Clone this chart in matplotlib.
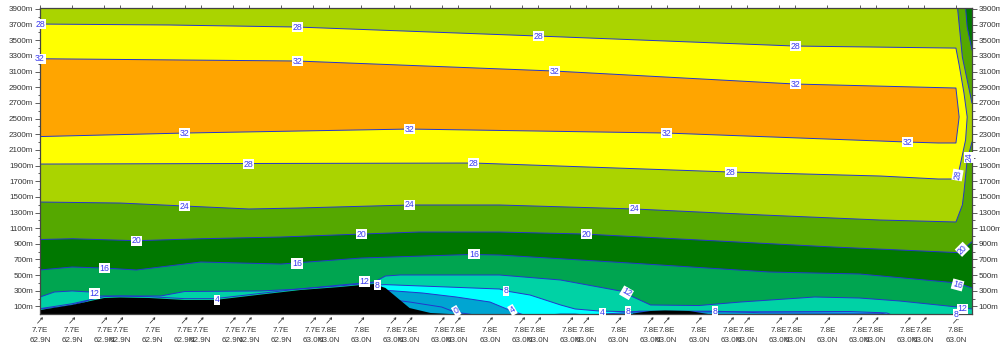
import matplotlib
matplotlib.use("Agg")
import matplotlib.pyplot as plt
from matplotlib.transforms import blended_transform_factory, offset_copy

plt.rcParams['font.family'] = ['Liberation Sans', 'DejaVu Sans']

# stations (index along the section) and their tick labels
stations = [0,2,4,5,7,9,10,12,13,15,17,18,20,22,23,25,26,28,30,31,33,34,36,38,39,41,43,44,46,47,49,51,52,54,55,57]
lons = ['7.7E']*11 + ['7.8E']*25
lats = ['62.9N']*10 + ['63.0N']*26
heights_major = list(range(100, 4000, 200))
heights_minor = list(range(200, 4000, 200))

# isotherms: (station index, height in m)
t32_x = [0,16,32,47,57,57.2,57,55.9,54,39,23,9,0]
t32_y = [3264,3235,3107,2941,2890,2520,2188,2188,2200,2315,2366,2315,2270]
t28_x = [0,8,16,31,47,57,57.2,57.5,57.7,57.6,57.2,57,55.9,52.3,43,27,13,0]
t28_y = [3707,3695,3669,3554,3426,3400,3184,2826,2520,2226,1843,1728,1728,1766,1817,1932,1926,1919]
t24_x = [0,5,9,13,16,23,28.6,37,45,52.3,57,57.4,57.5,57.7,58]
t24_y = [1434,1421,1383,1345,1357,1396,1396,1345,1268,1204,1179,1396,1562,1970,2200]
t24b_x = [57.1,57.4,57.7,58]
t24b_y = [3912,3285,2992,2698]
t20b_x = [57.6,57.7,58]
t20b_y = [3912,3669,3375]
t20_x = [0,2,6,10,15,20,23.6,28.6,33.9,41,49.3,57.2,58]
t20_y = [955,965,940,965,987,1025,1051,1051,1025,949,860,787,927]
t16_x = [0,2,4,6,10,15,20,26.8,28.6,36.7,45.4,51,57.1,58]
t16_y = [566,604,591,566,668,642,719,764,757,655,540,515,400,336]
t12_x = [0,0.9,2,3.1,3.7,7.5,9,13.7,16.2,18.7,20.8,21.5,22.4,28.6,32.4,36.1,38,41,43.6,47.3,48.2,51,53.5,57.1,58]
t12_y = [221,285,298,285,234,234,291,298,323,374,412,489,502,502,438,298,119,112,157,208,221,208,170,93,68]
t8a_x = [0,1.2,2,3]
t8a_y = [68,93,119,175]
t8b_x = [21,21.5,28.6,29,30.5,32.4,33.3,34.8,37.3,50.4,52.7,52.9]
t8b_y = [374,379,323,298,246,119,68,42,29,36,17,0]
t4a_x = [0,2,4,5,6.8,9,10.9,13,16.2,18.7,20,20.8]
t4a_y = [72,135,226,232,225,200,200,250,326,364,390,402]
t4b_x = [21.3,23.8,25.9,28,29.2,30]
t4b_y = [310,272,221,157,55,0]
t4c_x = [31.9,32.4,33.3,33.7]
t4c_y = [0,15,15,0]
t4d_x = [34.8,36.4,37.3,42,44.8,52.3,52.7]
t4d_y = [0,20,40,40,20,15,0]
t0_x = [22,23,25,25.8,26.8]
t0_y = [183,157,93,29,0]
terrain_x = [0,2,4,5,6.8,9,10.9,13,16.2,18.7,20,20.8,21.5,23,24.3,25.8]
terrain_y = [55,119,208,215,208,183,183,234,310,349,374,387,336,80,17,0]
terrain2_x = [36.9,38,38.9,40.4,41.7]
terrain2_y = [10,42,49,42,0]

# contour labels: text, station index, height, rotation
label_text = ['28','28','28','28','32','32','32','32','32','32','32','32','28','28','28','28',
              '24','24','24','24','20','20','20','20','16','16','16','16','12','12','12','12',
              '8','8','8','8','8','4','4','4','0']
label_x = [0,16,31,47,0,16,32,47,9,23,39,54,13,27,43,57.1,
           9,23,37,57.8,6,20,34,57.4,4,16,27,57.1,3.4,20.2,36.5,57.4,
           21,29,36.6,42,57,11,29.4,35,25.9]
label_y = [3707,3669,3554,3426,3264,3235,3107,2941,2315,2366,2315,2200,1919,1932,1817,1779,
           1383,1396,1345,2008,940,1025,1025,830,591,650,770,375,265,420,275,68,
           374,298,42,42,3,183,55,17,42]
label_rot = [0,0,0,0,0,0,0,0,0,0,0,0,0,0,0,80,
             0,0,0,90,0,0,0,45,0,0,0,-15,0,0,-30,0,
             0,0,0,0,0,0,30,0,30]

c_lime, c_yellow, c_orange = '#AAD400', '#FFFF00', '#FFA500'
c_20, c_16, c_12, c_8, c_4, c_0 = '#55A800', '#007800', '#00A550', '#00D2A5', '#00FFFF', '#00A5D2'
c_line = '#2435CC'
c_axis = '#444444'

fig = plt.figure(figsize=(10, 3.5), dpi=100)
ax = fig.add_axes([0.040, 1 - 314.3/350, 0.932, (314.3 - 8)/350])
ax.set_xlim(0, 58)
ax.set_ylim(0, 3912)
ax.set_facecolor(c_lime)

def below(xs, ys, color, z):
    ax.fill([xs[0]] + list(xs) + [xs[-1]], [0] + list(ys) + [0], color=color, lw=0, zorder=z)

# free-air regions, painted from warm to cold
ax.fill(t28_x, t28_y, color=c_yellow, lw=0, zorder=1)
ax.fill(t32_x, t32_y, color=c_orange, lw=0, zorder=1.5)
below(t24_x + [58], t24_y + [0], c_20, 2)
ax.fill(t24b_x + [58], t24b_y + [3912], color=c_20, lw=0, zorder=2)
ax.fill(t20b_x + [58], t20b_y + [3912], color=c_16, lw=0, zorder=2.5)
below(t20_x, t20_y, c_16, 3)
below(t16_x, t16_y, c_12, 4)
below(t12_x, t12_y, c_8, 5)
below(t8a_x, t8a_y, c_4, 6)
below(t8b_x, t8b_y, c_4, 6)
for xs, ys in [(t4b_x, t4b_y), (t4c_x, t4c_y), (t4d_x, t4d_y)]:
    below(xs, ys, c_0, 7)
below(terrain_x, terrain_y, 'black', 9)
below(terrain2_x, terrain2_y, 'black', 9)

for xs, ys in [(t32_x, t32_y), (t28_x, t28_y)]:
    ax.plot(list(xs) + [xs[0]], list(ys) + [ys[0]], color=c_line, lw=0.7, zorder=8)
for xs, ys in [(t24_x, t24_y), (t24b_x, t24b_y), (t20b_x, t20b_y), (t20_x, t20_y), (t16_x, t16_y),
               (t12_x, t12_y), (t8a_x, t8a_y), (t8b_x, t8b_y), (t4a_x, t4a_y), (t4b_x, t4b_y),
               (t4d_x, t4d_y), (t0_x, t0_y)]:
    ax.plot(xs, ys, color=c_line, lw=0.7, zorder=8)

for s, x, y, r in zip(label_text, label_x, label_y, label_rot):
    ax.text(x, y, s, color='#3A3AF0', fontsize=6.3, ha='center', va='center', rotation=r,
            rotation_mode='anchor', zorder=12, clip_on=False,
            bbox=dict(facecolor='white', edgecolor='none', pad=0.5))

# axes furniture
for sp in ax.spines.values():
    sp.set_color(c_axis)
    sp.set_linewidth(0.9)
    sp.set_zorder(11)
ax.set_yticks(heights_major)
ax.set_yticklabels([f'{h}m' for h in heights_major])
ax.set_yticks(heights_minor, minor=True)
ax.tick_params(axis='y', which='major', left=True, right=True, labelleft=True, labelright=True,
               length=3.4, width=0.6, color=c_axis, labelsize=5.8, labelcolor='#333333', pad=1.5)
ax.tick_params(axis='y', which='minor', left=True, right=True, length=1.8, width=0.6, color=c_axis)
ax.set_xticks(stations)
ax.set_xticklabels([f'{a}\n{b}' for a, b in zip(lons, lats)], fontsize=5.8, color='#333333', linespacing=1.6)
ax.tick_params(axis='x', which='major', bottom=False, top=True, length=2, width=0.6, color=c_axis, pad=7.5)

# wind arrows under the axis
base = blended_transform_factory(ax.transData, ax.transAxes)
head = offset_copy(base, fig=fig, x=2.0, y=-2.2, units='points')
for s in stations:
    ax.annotate('', xy=(s, 0), xycoords=head, xytext=(-3.8, -4.2), textcoords='offset points',
                arrowprops=dict(arrowstyle='->,head_length=0.12,head_width=0.08', color='#222222',
                                lw=0.5, shrinkA=0, shrinkB=0), annotation_clip=False)

fig.savefig('out.png', dpi=100)
